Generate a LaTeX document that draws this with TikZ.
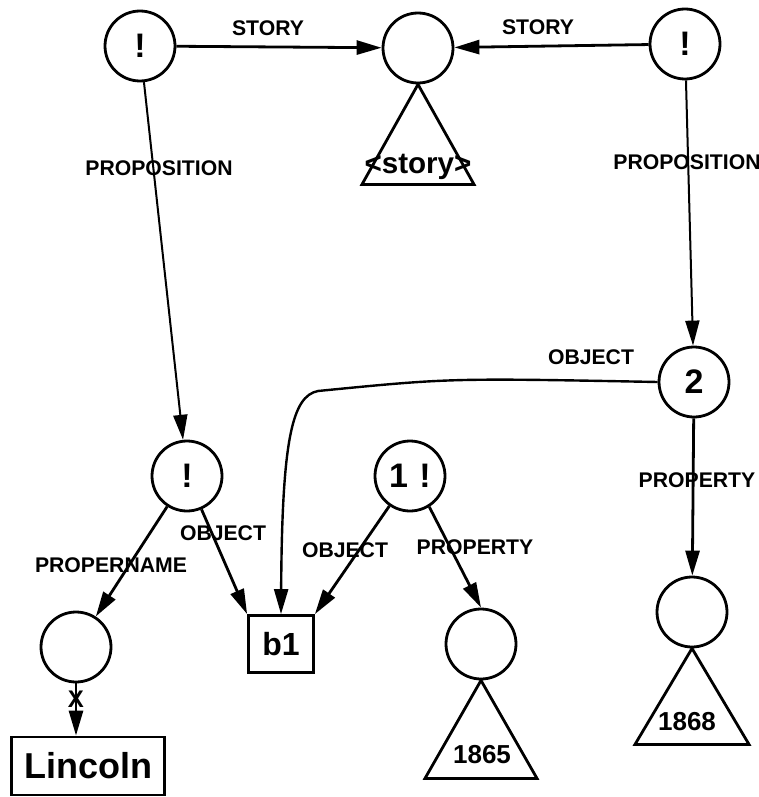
\documentclass[tikz,border=0pt]{standalone}
\usepackage{fontspec}
\setmainfont{Liberation Sans}
\usepackage{tikz}
\usetikzlibrary{arrows.meta}
\usetikzlibrary{positioning}

\tikzset{
  snode/.style={circle, draw, line width=1.4pt, minimum size=35pt, inner sep=0pt,
    font=\fontsize{17}{17}\selectfont\bfseries},
  bnode/.style={rectangle, draw, line width=1.4pt, inner sep=0pt},
  lbl/.style={font=\fontsize{10.6}{12}\selectfont\bfseries, inner sep=0pt},
  rel/.style={line width=1.4pt, -{Triangle[length=12.5pt,width=7pt]}},
}

\begin{document}
\begin{tikzpicture}[x=0.5pt, y=-0.5pt]
    \useasboundingbox (0,0) rectangle (759,797);

    % story level
    \node [snode] (prop1) at (140,46) {!};
    \node [snode] (story) at (418,48) {};
    \node [snode] (prop2) at (685,44) {!};

    % facts
    \node [snode] (fact1) at (187,476) {!};
    \node [snode] (fact2) at (410,476) {1\,\,!};
    \node [snode] (fact3) at (694,382) {2};

    \node [snode] (name) at (76,647) {};
    \node [snode] (year1) at (481,644) {};
    \node [snode] (year2) at (692,612) {};

    \node [bnode, minimum width=32.5pt, minimum height=28.5pt,
      font=\fontsize{16}{16}\selectfont\bfseries] (b1) at (281,644) {b1};
    \node [bnode, minimum width=76.5pt, minimum height=29pt,
      font=\fontsize{18}{18}\selectfont\bfseries] (lincoln) at (88,766) {Lincoln};

    % triangles under the circles
    \foreach \n/\w/\h in {story/56/100, year1/56/98, year2/57/96} {
      \draw [line width=1.4pt, line join=miter] (\n.south) -- ++(-\w,\h) -- ++({2*\w},0) -- cycle;
    }
    \node [font=\fontsize{14.8}{15}\selectfont\bfseries] (storytxt) at (418,167) {<story>};
    \node [font=\fontsize{13}{13}\selectfont\bfseries] (y1txt) at (482,755) {1865};
    \node [font=\fontsize{13}{13}\selectfont\bfseries] (y2txt) at (687,722) {1868};

    % connectors
    \draw [rel] (prop1) -- (story);
    \draw [rel] (prop2) -- (story);
    \draw [rel, line width=1pt] (prop1) -- (fact1);
    \draw [rel, line width=1pt] (prop2) -- (fact3);
    \draw [rel] (fact1) -- (name);
    \draw [rel] (fact1) -- (b1.north west);
    \draw [rel] (fact2) -- (b1.north east);
    \draw [rel] (fact2.-58) -- (year1.north);
    \draw [rel] (fact3) -- (year2);
    \draw [rel] (name.south) -- (name.south |- lincoln.north)
      node [lbl, pos=0.3, font=\fontsize{12}{12}\selectfont\bfseries] {X};
    \draw [rel, line width=1.2pt] (fact3.west) .. controls (450,378) .. (318,391)
      .. controls (292,396) and (282,440) .. (b1.north);

    % labels
    \node [lbl] at (268,28) {STORY};
    \node [lbl] at (538,27) {STORY};
    \node [lbl] at (159,168) {PROPOSITION};
    \node [lbl] at (687,162) {PROPOSITION};
    \node [lbl] at (591,357) {OBJECT};
    \node [lbl] at (697,480) {PROPERTY};
    \node [lbl] at (223,533) {OBJECT};
    \node [lbl] at (345,550) {OBJECT};
    \node [lbl] at (475,547) {PROPERTY};
    \node [lbl] at (111,565) {PROPERNAME};
  \end{tikzpicture}
\end{document}
